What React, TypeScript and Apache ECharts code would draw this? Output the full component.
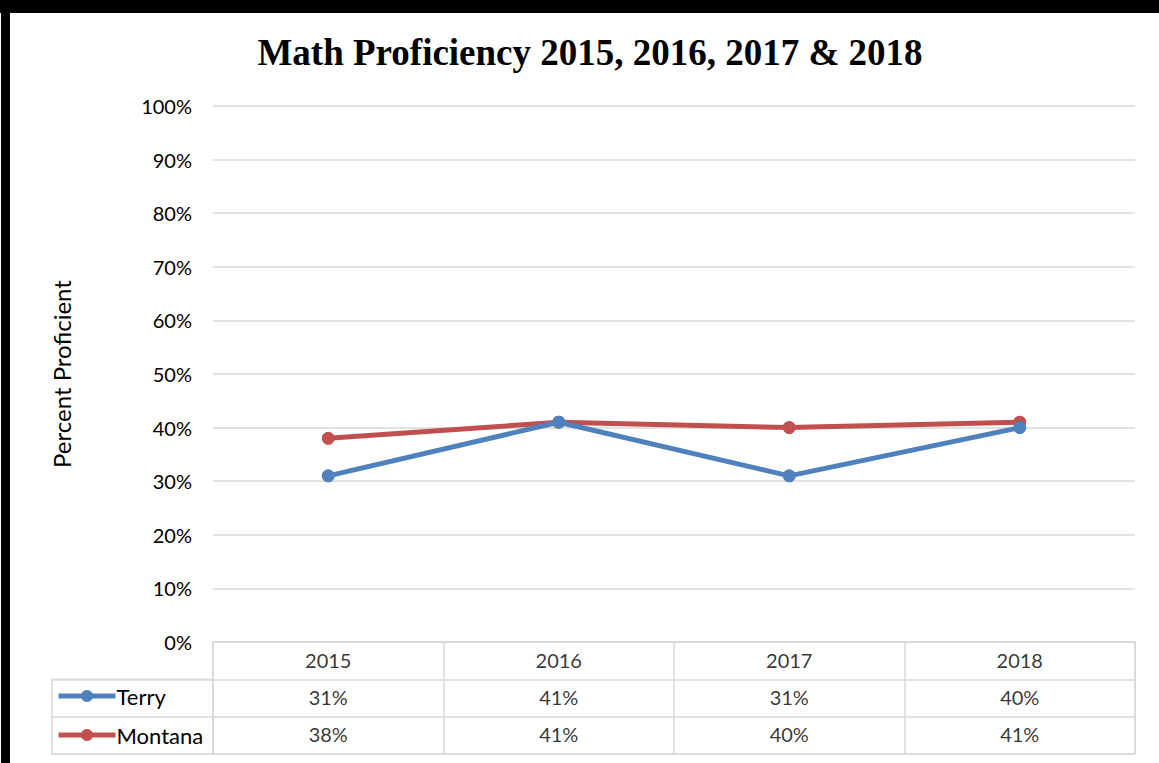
import React, { useEffect, useRef } from "react";
import * as echarts from "echarts";

const years = ["2015", "2016", "2017", "2018"];
const seriesNames = ["Terry", "Montana"];
const terry = [31, 41, 31, 40];
const montana = [38, 41, 40, 41];
const yTicks = { min: 0, max: 100, interval: 10 };
const colors = ["#4f81bd", "#c0504d"];

export default function App() {
  const ref = useRef<HTMLDivElement>(null);
  useEffect(() => {
    if (!ref.current) return;
    const chart = echarts.init(ref.current, null, { renderer: "svg" });
    const font = "Lato";
    const gridColor = "#d9d9d9";
    const values = [terry, montana];
    const cells: any[] = [];
    years.forEach((y, i) => {
      cells.push([i, 0, y]);
      values.forEach((arr, s) => cells.push([i, s + 1, arr[i] + "%"]));
    });
    const legendTop = [680, 719];
    chart.setOption({
      animation: false,
      backgroundColor: "#ffffff",
      title: {
        text: "Math Proficiency 2015, 2016, 2017 & 2018",
        left: 585,
        textAlign: "center",
        top: 29,
        textStyle: {
          fontFamily: "Liberation Serif",
          fontWeight: "bold",
          fontSize: 37,
          color: "#000",
        },
      },
      legend: seriesNames.map((name, s) => ({
        orient: "horizontal",
        left: 51,
        top: legendTop[s],
        itemWidth: 57,
        itemHeight: 15,
        data: [name],
        lineStyle: { width: 5 },
        textStyle: { fontFamily: font, fontSize: 22, color: "#000", padding: [0, 0, 0, -4] },
      })),
      graphic: [
        { type: "rect", shape: { x: 0, y: 0, width: 1159, height: 13 }, style: { fill: "#000" } },
        { type: "rect", shape: { x: 1, y: 0, width: 9, height: 763 }, style: { fill: "#000" } },
      ],
      grid: [
        { left: 213, top: 106, width: 922, height: 536 },
        { left: 213, top: 642, width: 922, height: 112, show: true, borderColor: gridColor, borderWidth: 1.5 },
        { left: 52, top: 679.3, width: 161, height: 74.7, show: true, borderColor: gridColor, borderWidth: 1.5 },
      ],
      xAxis: [
        {
          type: "category",
          gridIndex: 0,
          data: years,
          boundaryGap: true,
          axisLine: { show: false },
          axisTick: { show: false },
          axisLabel: { show: false },
        },
        {
          type: "category",
          gridIndex: 1,
          data: years,
          boundaryGap: true,
          axisLine: { show: false },
          axisTick: { show: false },
          axisLabel: { show: false },
          splitLine: { show: true, lineStyle: { color: gridColor, width: 1.5 } },
        },
        {
          type: "category",
          gridIndex: 2,
          data: [""],
          show: false,
        },
      ],
      yAxis: [
        {
          type: "value",
          gridIndex: 0,
          min: yTicks.min,
          max: yTicks.max,
          interval: yTicks.interval,
          name: "Percent Proficient",
          nameLocation: "middle",
          nameRotate: 90,
          nameGap: 140,
          nameTextStyle: { fontFamily: font, fontSize: 24, color: "#000" },
          axisLine: { show: false },
          axisTick: { show: false },
          axisLabel: {
            formatter: "{value}%",
            fontFamily: font,
            fontSize: 20,
            color: "#000",
            margin: 21,
          },
          splitLine: { lineStyle: { color: gridColor, width: 1.5 } },
        },
        {
          type: "category",
          gridIndex: 1,
          inverse: true,
          data: ["", ...seriesNames],
          axisLine: { show: false },
          axisTick: { show: false },
          axisLabel: { show: false },
          splitLine: { show: true, lineStyle: { color: gridColor, width: 1.5 } },
        },
        {
          type: "category",
          gridIndex: 2,
          inverse: true,
          data: seriesNames,
          axisLine: { show: false },
          axisTick: { show: false },
          axisLabel: { show: false },
          splitLine: { show: true, lineStyle: { color: gridColor, width: 1.5 } },
        },
      ],
      series: [
        ...seriesNames.map((name, s) => ({
          name,
          type: "line",
          xAxisIndex: 0,
          yAxisIndex: 0,
          data: values[s],
          symbol: "circle",
          symbolSize: 13,
          lineStyle: { width: 5, color: colors[s] },
          itemStyle: { color: colors[s] },
          z: 3 + (1 - s),
        })),
        {
          type: "scatter",
          xAxisIndex: 1,
          yAxisIndex: 1,
          data: cells,
          symbolSize: 1,
          itemStyle: { color: "rgba(0,0,0,0)" },
          silent: true,
          label: {
            show: true,
            position: "inside",
            offset: [0, -1],
            formatter: (p: any) => p.data[2],
            fontFamily: font,
            fontSize: 20,
            color: "#000",
          },
        },
      ],
    });
    return () => chart.dispose();
  }, []);
  return (
    <div
      ref={ref}
      style={{ position: "fixed", left: 0, top: 0, width: 1159, height: 763 }}
    />
  );
}
